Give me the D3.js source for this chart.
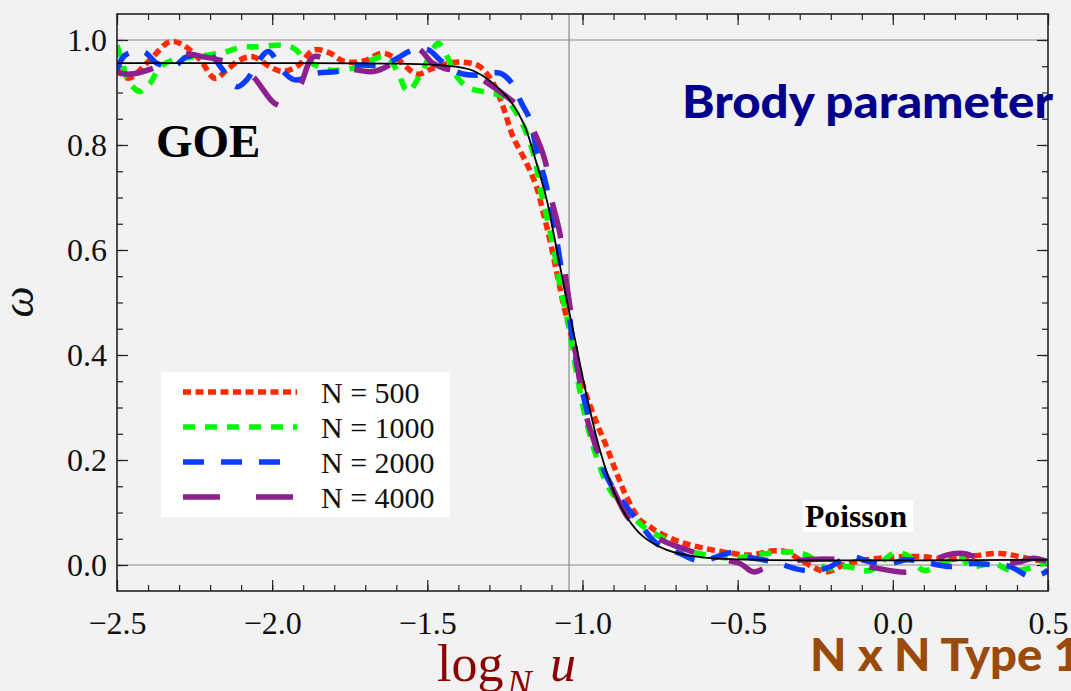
<!DOCTYPE html>
<html>
<head>
<meta charset="utf-8">
<script src="https://cdn.jsdelivr.net/npm/d3@7"></script>
<style>
body { margin: 0; background: #f2f2f2; }
svg { display: block; }
</style>
</head>
<body>
<svg width="1071" height="691"></svg>
<script>
// values: [log_N u, omega]
const n500 = [[-2.5,0.945],[-2.463,0.927],[-2.394,0.962],[-2.329,0.997],[-2.286,0.99],[-2.232,0.962],[-2.184,0.927],[-2.146,0.943],[-2.104,0.962],[-2.061,0.968],[-2.007,0.949],[-1.965,0.94],[-1.915,0.952],[-1.866,0.981],[-1.817,0.976],[-1.767,0.959],[-1.705,0.96],[-1.644,0.975],[-1.594,0.962],[-1.533,0.935],[-1.483,0.946],[-1.42,0.957],[-1.373,0.957],[-1.33,0.949],[-1.288,0.918],[-1.256,0.873],[-1.224,0.816],[-1.18,0.765],[-1.148,0.72],[-1.126,0.67],[-1.105,0.619],[-1.078,0.543],[-1.062,0.498],[-1.03,0.422],[-0.997,0.34],[-0.954,0.27],[-0.922,0.225],[-0.89,0.175],[-0.858,0.13],[-0.815,0.086],[-0.78,0.072],[-0.761,0.064],[-0.686,0.044],[-0.6,0.031],[-0.515,0.022],[-0.46,0.019],[-0.385,0.027],[-0.342,0.025],[-0.299,0.01],[-0.213,-0.013],[-0.16,0.0],[-0.084,0.01],[0.002,0.015],[0.088,0.016],[0.184,0.011],[0.259,0.017],[0.345,0.022],[0.431,0.013],[0.5,0.006]]

const n1000 = [[-2.5,0.99],[-2.485,0.962],[-2.463,0.922],[-2.426,0.902],[-2.394,0.917],[-2.361,0.949],[-2.319,0.962],[-2.275,0.966],[-2.2,0.972],[-2.146,0.978],[-2.104,0.986],[-2.05,0.987],[-1.975,0.99],[-1.93,0.984],[-1.89,0.962],[-1.817,0.943],[-1.743,0.946],[-1.68,0.962],[-1.63,0.968],[-1.594,0.937],[-1.563,0.902],[-1.52,0.937],[-1.483,0.981],[-1.465,0.994],[-1.433,0.965],[-1.41,0.935],[-1.373,0.911],[-1.309,0.9],[-1.255,0.892],[-1.212,0.86],[-1.18,0.822],[-1.153,0.771],[-1.137,0.72],[-1.115,0.663],[-1.094,0.606],[-1.072,0.53],[-1.046,0.46],[-1.019,0.365],[-0.986,0.27],[-0.944,0.187],[-0.911,0.143],[-0.858,0.105],[-0.804,0.073],[-0.75,0.054],[-0.675,0.03],[-0.6,0.019],[-0.514,0.013],[-0.407,0.022],[-0.331,0.025],[-0.278,0.019],[-0.213,-0.006],[-0.149,-0.003],[-0.073,-0.01],[0.002,0.022],[0.045,0.019],[0.099,-0.01],[0.163,0.003],[0.217,0.016],[0.249,-0.003],[0.324,0.003],[0.378,-0.01],[0.442,-0.006],[0.5,0.006]]

const n2000 = [[-2.5,0.943],[-2.474,0.971],[-2.415,0.978],[-2.372,0.956],[-2.319,0.949],[-2.275,0.968],[-2.2,0.971],[-2.163,0.946],[-2.114,0.911],[-2.082,0.924],[-2.045,0.959],[-2.012,0.978],[-1.964,0.94],[-1.927,0.924],[-1.854,0.937],[-1.792,0.94],[-1.73,0.952],[-1.644,0.952],[-1.607,0.962],[-1.545,0.981],[-1.496,0.981],[-1.459,0.962],[-1.395,0.937],[-1.33,0.933],[-1.266,0.937],[-1.228,0.918],[-1.196,0.879],[-1.169,0.848],[-1.148,0.79],[-1.121,0.733],[-1.1,0.676],[-1.083,0.619],[-1.067,0.562],[-1.051,0.524],[-1.035,0.441],[-1.008,0.352],[-0.976,0.27],[-0.944,0.2],[-0.911,0.156],[-0.858,0.111],[-0.815,0.079],[-0.761,0.041],[-0.686,0.022],[-0.621,0.008],[-0.514,0.024],[-0.471,0.016],[-0.385,0.006],[-0.288,-0.01],[-0.213,-0.006],[-0.138,0.016],[-0.073,0.006],[-0.009,0.003],[0.045,0.01],[0.098,0.006],[0.184,-0.003],[0.259,0.003],[0.324,0.0],[0.378,-0.003],[0.442,-0.022],[0.484,-0.016],[0.5,-0.01]]

const n4000 = [[-2.5,0.938],[-2.458,0.935],[-2.394,0.944],[-2.33,0.962],[-2.275,0.973],[-2.222,0.968],[-2.163,0.961],[-2.11,0.95],[-2.061,0.93],[-1.991,0.879],[-1.95,0.875],[-1.909,0.914],[-1.866,0.968],[-1.8,0.955],[-1.73,0.943],[-1.675,0.94],[-1.632,0.949],[-1.58,0.97],[-1.533,0.984],[-1.483,0.956],[-1.446,0.946],[-1.39,0.94],[-1.341,0.93],[-1.244,0.892],[-1.2,0.87],[-1.164,0.835],[-1.121,0.771],[-1.1,0.698],[-1.073,0.632],[-1.056,0.556],[-1.04,0.49],[-1.014,0.37],[-0.986,0.28],[-0.944,0.206],[-0.89,0.13],[-0.847,0.086],[-0.79,0.065],[-0.74,0.046],[-0.664,0.029],[-0.6,0.016],[-0.55,0.01],[-0.493,0.003],[-0.45,-0.013],[-0.412,-0.006],[-0.35,0.005],[-0.278,0.01],[-0.192,0.011],[-0.12,0.003],[-0.052,-0.006],[0.055,-0.013],[0.12,0.005],[0.173,0.019],[0.227,0.022],[0.281,0.013],[0.35,0.005],[0.41,0.006],[0.453,0.013],[0.5,0.006]]

// black fitted curve
const fitCurve = [[-2.5,0.956],[-2.0,0.956],[-1.6,0.955],[-1.46,0.952],[-1.35,0.941],[-1.244,0.892],[-1.19,0.841],[-1.148,0.765],[-1.115,0.695],[-1.089,0.619],[-1.056,0.52],[-1.024,0.429],[-0.986,0.321],[-0.944,0.219],[-0.901,0.143],[-0.858,0.092],[-0.804,0.054],[-0.729,0.029],[-0.621,0.015],[-0.43,0.01],[0.5,0.01]]

const seriesLabels = ['N = 500', 'N = 1000', 'N = 2000', 'N = 4000']
const xMajorTicks = [-2.5, -2.0, -1.5, -1.0, -0.5, 0.0, 0.5]
const yMajorTicks = [0.0, 0.2, 0.4, 0.6, 0.8, 1.0]
const vLine = -1.0435

const svg = d3.select('svg')
const margin = {top: 14, right: 23, bottom: 100, left: 117},
    width = 1071 - margin.left - margin.right,
    height = 691 - margin.top - margin.bottom

const x = d3.scaleLinear().domain([-2.5, 0.5]).range([0, width])
const y = d3.scaleLinear().domain([-0.0495, 1.0495]).range([height, 0])

const series = [
    {data: n500, color: '#ff2a00', dash: '8,4.5'},
    {data: n1000, color: '#00f800', dash: '12,10'},
    {data: n2000, color: '#0a3cff', dash: '21,17'},
    {data: n4000, color: '#8e1f8e', dash: '37,36'}
]
series.forEach((s, i) => s.label = seriesLabels[i])

const g = svg.append('g').attr('transform', `translate(${margin.left},${margin.top})`)

g.append('clipPath').attr('id', 'clip')
    .append('rect').attr('width', width).attr('height', height)

// grid lines
g.selectAll('.hgrid').data([0, 1]).enter().append('line')
    .attr('x1', 0).attr('x2', width)
    .attr('y1', d => y(d)).attr('y2', d => y(d))
    .attr('stroke', '#8a8a8a').attr('stroke-width', 1.2)
g.append('line')
    .attr('x1', x(vLine)).attr('x2', x(vLine))
    .attr('y1', 0).attr('y2', height)
    .attr('stroke', '#8a8a8a').attr('stroke-width', 1.2)

const xMinor = d3.range(-25, 6).map(d => d / 10)
const yMinor = d3.range(-0, 21).map(d => d / 20)

const tickStyle = sel => {
    sel.select('.domain').remove()
    sel.selectAll('line').attr('stroke', '#222').attr('stroke-width', 1.2)
}

// bottom
g.append('g').attr('transform', `translate(0,${height})`)
    .call(d3.axisBottom(x).tickValues(xMinor).tickSize(-6).tickFormat(''))
    .call(tickStyle)
g.append('g').attr('transform', `translate(0,${height})`)
    .call(d3.axisBottom(x).tickValues(xMajorTicks).tickSize(-11).tickPadding(20).tickFormat(d3.format('.1f')))
    .call(tickStyle)
    .selectAll('text')
    .attr('font-family', '"Liberation Serif", serif').attr('font-size', 32).attr('fill', '#111')
// top
g.append('g')
    .call(d3.axisTop(x).tickValues(xMinor).tickSize(-6).tickFormat(''))
    .call(tickStyle)
g.append('g')
    .call(d3.axisTop(x).tickValues(xMajorTicks).tickSize(-11).tickFormat(''))
    .call(tickStyle)
// left
g.append('g')
    .call(d3.axisLeft(y).tickValues(yMinor).tickSize(-6).tickFormat(''))
    .call(tickStyle)
g.append('g')
    .call(d3.axisLeft(y).tickValues(yMajorTicks).tickSize(-11).tickPadding(10).tickFormat(d3.format('.1f')))
    .call(tickStyle)
    .selectAll('text')
    .attr('font-family', '"Liberation Serif", serif').attr('font-size', 32).attr('fill', '#111')
// right
g.append('g').attr('transform', `translate(${width},0)`)
    .call(d3.axisRight(y).tickValues(yMinor).tickSize(-6).tickFormat(''))
    .call(tickStyle)
g.append('g').attr('transform', `translate(${width},0)`)
    .call(d3.axisRight(y).tickValues(yMajorTicks).tickSize(-11).tickFormat(''))
    .call(tickStyle)

// curves
const line = d3.line()
    .x(d => x(d[0]))
    .y(d => y(d[1]))
    .curve(d3.curveCatmullRom.alpha(0.5))

const plot = g.append('g').attr('clip-path', 'url(#clip)')
plot.selectAll('.series').data(series).enter().append('path')
    .attr('class', 'series')
    .attr('d', d => line(d.data))
    .attr('fill', 'none')
    .attr('stroke', d => d.color)
    .attr('stroke-width', 5.5)
    .attr('stroke-dasharray', d => d.dash)

plot.append('path')
    .attr('d', line(fitCurve))
    .attr('fill', 'none')
    .attr('stroke', '#000')
    .attr('stroke-width', 1.8)

// frame
g.append('rect')
    .attr('width', width).attr('height', height)
    .attr('fill', 'none').attr('stroke', '#222').attr('stroke-width', 1.6)

// legend
const legend = svg.append('g').attr('transform', 'translate(161,372)')
legend.append('rect').attr('width', 289).attr('height', 145).attr('fill', '#fff')
const item = legend.selectAll('.item').data(series).enter().append('g')
    .attr('transform', (d, i) => `translate(0,${20 + i * 35})`)
item.append('line')
    .attr('x1', 22).attr('x2', 136)
    .attr('stroke', d => d.color)
    .attr('stroke-width', 5.5)
    .attr('stroke-dasharray', d => d.dash)
item.append('text')
    .text(d => d.label)
    .attr('x', 160)
    .attr('dy', '0.35em')
    .attr('font-family', '"Liberation Serif", serif')
    .attr('font-size', 30)
    .attr('fill', '#111')

// annotations
svg.append('text').text('GOE')
    .attr('x', 156).attr('y', 157)
    .attr('font-family', '"Liberation Serif", serif')
    .attr('font-weight', 'bold').attr('font-size', 47)

svg.append('rect').attr('x', 803).attr('y', 500).attr('width', 110).attr('height', 32).attr('fill', '#fff')
svg.append('text').text('Poisson')
    .attr('x', 805).attr('y', 527)
    .attr('font-family', '"Liberation Serif", serif')
    .attr('font-weight', 'bold').attr('font-size', 31)
    .attr('textLength', 102).attr('lengthAdjust', 'spacingAndGlyphs')

svg.append('text').text('Brody parameter')
    .attr('x', 682).attr('y', 118)
    .attr('font-family', 'Lato, sans-serif')
    .attr('font-weight', 900).attr('font-size', 46)
    .attr('fill', '#00008c')
    .attr('textLength', 371).attr('lengthAdjust', 'spacingAndGlyphs')

svg.append('text').text('N x N Type 1')
    .attr('x', 810).attr('y', 671)
    .attr('font-family', 'Lato, sans-serif')
    .attr('font-weight', 900).attr('font-size', 46)
    .attr('fill', '#9a4a0a')
    .attr('textLength', 271).attr('lengthAdjust', 'spacingAndGlyphs')

// axis labels
const xl = svg.append('g').attr('fill', '#8b0000').attr('font-family', '"Liberation Serif", serif')
xl.append('text').text('log').attr('x', 437).attr('y', 681).attr('font-size', 52)
xl.append('text').text('N').attr('x', 507).attr('y', 696).attr('font-size', 37).attr('font-style', 'italic')
xl.append('text').text('u').attr('x', 550).attr('y', 681).attr('font-size', 52).attr('font-style', 'italic')

svg.append('text').text('ω')
    .attr('transform', 'translate(33,302) rotate(-90)')
    .attr('text-anchor', 'middle')
    .attr('font-family', '"Liberation Serif", serif')
    .attr('font-style', 'italic').attr('font-size', 44)
    .attr('fill', '#111')
</script>
</body>
</html>
